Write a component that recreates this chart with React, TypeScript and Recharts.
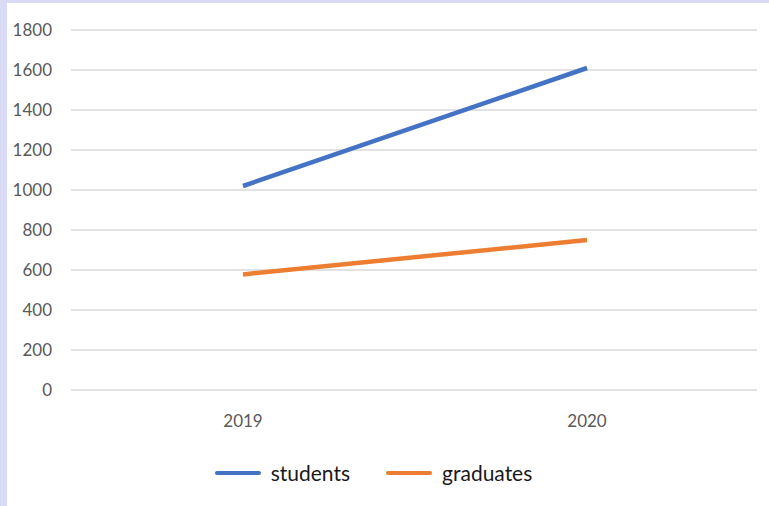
import { LineChart, Line, XAxis, YAxis, CartesianGrid, Legend } from "recharts";

const years = ["2019", "2020"];
const students = [1020, 1610];
const graduates = [578, 750];
const yTicks = [0, 200, 400, 600, 800, 1000, 1200, 1400, 1600, 1800];

const series = [
  { key: "students", color: "#4472c4" },
  { key: "graduates", color: "#ed7d31" },
];

const data = years.map((year, i) => ({
  year,
  students: students[i],
  graduates: graduates[i],
}));

const FONT = "Lato, 'Open Sans', sans-serif";

function ChartLegend() {
  return (
    <div
      style={{
        display: "flex",
        justifyContent: "center",
        alignItems: "center",
        gap: 36,
        fontFamily: FONT,
        fontSize: 21,
        color: "#1a1a1a",
        marginLeft: -17,
        marginTop: 20,
      }}
    >
      {series.map((s) => (
        <div key={s.key} style={{ display: "flex", alignItems: "center", gap: 10 }}>
          <span
            style={{
              display: "inline-block",
              width: 46,
              height: 4,
              borderRadius: 2,
              background: s.color,
            }}
          />
          <span>{s.key}</span>
        </div>
      ))}
    </div>
  );
}

export default function App() {
  return (
    <div
      style={{
        position: "absolute",
        left: 0,
        top: 0,
        width: 769,
        height: 506,
        background: "#d9dbf6",
      }}
    >
      <div
        style={{
          position: "absolute",
          left: 7,
          top: 3,
          width: 762,
          height: 503,
          background: "#ffffff",
        }}
      >
        <LineChart
          width={762}
          height={503}
          data={data}
          margin={{ top: 27, right: 12, left: 0, bottom: 20 }}
        >
          <CartesianGrid vertical={false} stroke="#d9d9d9" strokeWidth={1.5} />
          <XAxis
            dataKey="year"
            axisLine={false}
            tickLine={false}
            tickSize={0}
            tickMargin={25}
            height={50}
            padding={{ left: 172, right: 170 }}
            tick={{ fontFamily: FONT, fontSize: 17, fill: "#595959" }}
          />
          <YAxis
            domain={[0, 1800]}
            ticks={yTicks}
            axisLine={false}
            tickLine={false}
            tickSize={0}
            tickMargin={19}
            width={64}
            tick={{ fontFamily: FONT, fontSize: 17, fill: "#595959" }}
          />
          <Legend verticalAlign="bottom" height={46} content={() => <ChartLegend />} />
          {series.map((s) => (
            <Line
              key={s.key}
              dataKey={s.key}
              stroke={s.color}
              strokeWidth={4.5}
              dot={false}
              isAnimationActive={false}
            />
          ))}
        </LineChart>
      </div>
    </div>
  );
}
